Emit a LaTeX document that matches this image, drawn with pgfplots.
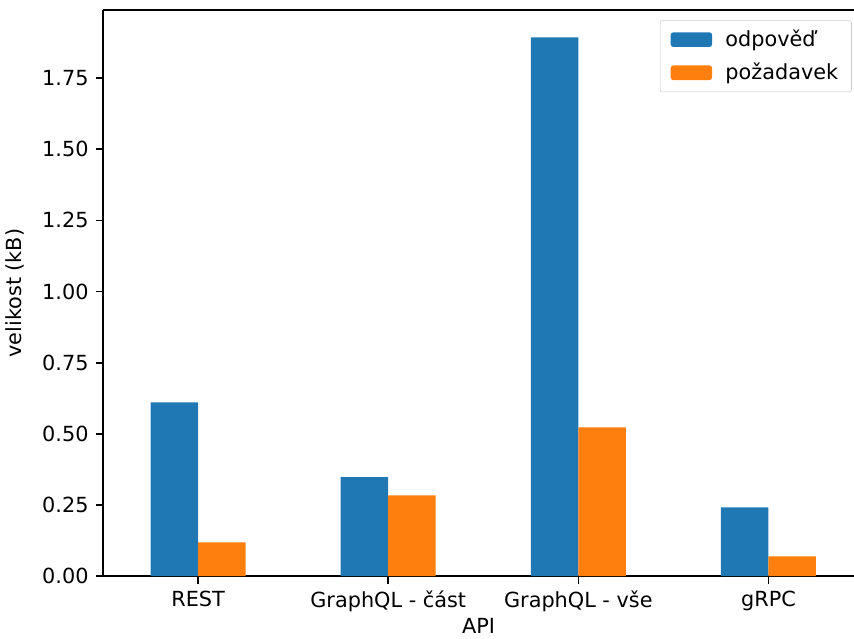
\documentclass[border=0pt]{standalone}
\usepackage{pgfplots}
\pgfplotsset{compat=1.18}
\usepackage{fontspec}
\setmainfont{DejaVu Sans}
\definecolor{c0}{HTML}{1F77B4}
\definecolor{c1}{HTML}{FF7F0E}
\begin{document}
\fontsize{15.6}{18.7}\selectfont
\begin{tikzpicture}
\begin{axis}[name=ax,
  scale only axis, width=563pt, height=424.5pt,
  xmin=-0.5, xmax=3.45, ymin=0, ymax=1.989,
  axis x line*=box, axis y line*=left,
  axis line style={-, line width=1.25pt, black},
  tick align=outside, xtick pos=left, ytick pos=left,
  major tick length=5.5pt,
  tick style={line width=1.25pt, black},
  xtick={0,1,2,3},
  xticklabels={REST, GraphQL - část, GraphQL - vše, gRPC},
  ytick={0,0.25,0.5,0.75,1,1.25,1.5,1.75},
  yticklabel style={/pgf/number format/.cd, fixed, fixed zerofill, precision=2, assume math mode=true},
  /pgf/number format/assume math mode=true,
  ticklabel style={font=\fontsize{15.6}{18.7}\selectfont},
  xlabel={API}, ylabel={velikost (kB)},
  label style={font=\fontsize{15.6}{18.7}\selectfont},
  xlabel style={at={(axis description cs:0.5,0)}, anchor=center, yshift=-37pt},
  ylabel style={at={(axis description cs:-0.1172,0.5)}, anchor=center},
  legend style={at={(0.997,0.982)}, anchor=north east, draw=black!20, rounded corners=2pt,
    font=\fontsize{15.6}{18.7}\selectfont, inner xsep=8pt, inner ysep=5pt, row sep=6pt,
    /tikz/every even column/.append style={column sep=0pt}},
  legend cell align=left,
  legend image code/.code={\fill[#1,draw=none] (0pt,-5.5pt) rectangle (31pt,5.5pt);},
]
\addplot[ybar, fill=c0, draw=none, bar width=0.25, bar shift=-0.125] coordinates {(0,0.611) (1,0.348) (2,1.893) (3,0.242)};
\addlegendentry{\hspace{8pt}odpověď}
\addplot[ybar, fill=c1, draw=none, bar width=0.25, bar shift=0.125] coordinates {(0,0.119) (1,0.284) (2,0.523) (3,0.070)};
\addlegendentry{\hspace{8pt}požadavek}
\end{axis}
\pgfresetboundingbox
\path[use as bounding box] ([xshift=-77.25pt, yshift=-46.5pt]ax.south west) rectangle ([yshift=7.5pt]ax.north east);
\end{tikzpicture}
\end{document}
